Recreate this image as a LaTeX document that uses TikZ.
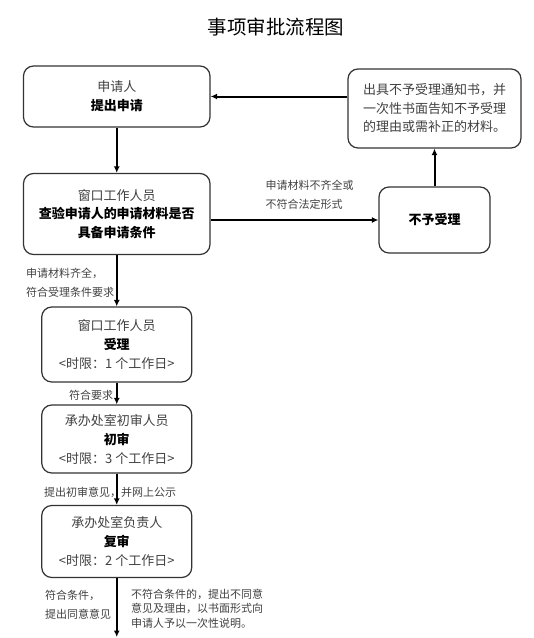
\documentclass[tikz,border=0pt]{standalone}
\usepackage{fontspec}
\setmainfont{Noto Sans CJK SC}
\usetikzlibrary{arrows.meta}
\newcommand\softline[1]{\textcolor{black!75}{#1}}

\begin{document}
\begin{tikzpicture}[x=1pt,y=-1pt,
  box/.style={draw=black!80,line width=1.2pt,rounded corners=10pt,align=center,inner sep=0pt,font=\fontsize{13}{19}\selectfont},
  flow/.style={-{Latex[length=6.5pt,width=6pt]},line width=2pt},
  note/.style={anchor=west,align=left,inner sep=0pt,text=black!75,font=\fontsize{11}{18.5}\selectfont}]

\useasboundingbox (0,0) rectangle (534,638);

\node (title) at (276,27) {\fontsize{19.5}{19.5}\selectfont 事项审批流程图};

\node[box,minimum width=186.5pt,minimum height=61pt] (apply) at (116.75,96.5) {\softline{申请人}\\\textbf{提出申请}};
\node[box,minimum width=173pt,minimum height=79pt,align=left,font=\fontsize{13}{18.5}\selectfont] (notice) at (434.5,108.5) {\softline{出具不予受理通知书，并}\\\softline{一次性书面告知不予受理}\\\softline{的理由或需补正的材料。}};
\node[box,minimum width=186.5pt,minimum height=81pt,font=\fontsize{13}{18.5}\selectfont] (check) at (116.75,214) {\softline{窗口工作人员}\\\textbf{查验申请人的申请材料是否}\\\textbf{具备申请条件}};
\node[box,minimum width=111pt,minimum height=66pt] (reject) at (434.5,220) {\textbf{不予受理}};
\node[box,minimum width=150pt,minimum height=75pt] (accept) at (116.75,344.5) {\softline{窗口工作人员}\\\textbf{受理}\\\softline{<时限：1 个工作日>}};
\node[box,minimum width=150pt,minimum height=68pt] (first) at (116.75,439) {\softline{承办处室初审人员}\\\textbf{初审}\\\softline{<时限：3 个工作日>}};
\node[box,minimum width=150pt,minimum height=72pt] (second) at (116.75,541.5) {\softline{承办处室负责人}\\\textbf{复审}\\\softline{<时限：2 个工作日>}};

\coordinate (out) at (116.75,637);

\draw[flow] (apply) -- (check);
\draw[flow] (check) -- (accept);
\draw[flow] (accept) -- (first);
\draw[flow] (first) -- (second);
\draw[flow] (second) -- (out);
\draw[flow] (check.east |- reject.west) -- (reject);
\draw[flow] (reject) -- (notice);
\draw[flow] (notice.west |- apply.east) -- (apply);

\node[note] (lackinfo) at (265.5,195) {申请材料不齐全或\\不符合法定形式};
\node[note,font=\fontsize{11}{19}\selectfont] (fullinfo) at (26,282.5) {申请材料齐全，\\符合受理条件要求};
\node[note] (meet) at (69,395) {符合要求};
\node[note] (publish) at (44,492) {提出初审意见，并网上公示};
\node[note,font=\fontsize{11}{19}\selectfont] (agree) at (45,604.5) {符合条件，\\提出同意意见};
\node[note,font=\fontsize{11}{14.5}\selectfont] (disagree) at (131,608.5) {不符合条件的，提出不同意\\意见及理由，以书面形式向\\申请人予以一次性说明。};

\end{tikzpicture}
\end{document}
